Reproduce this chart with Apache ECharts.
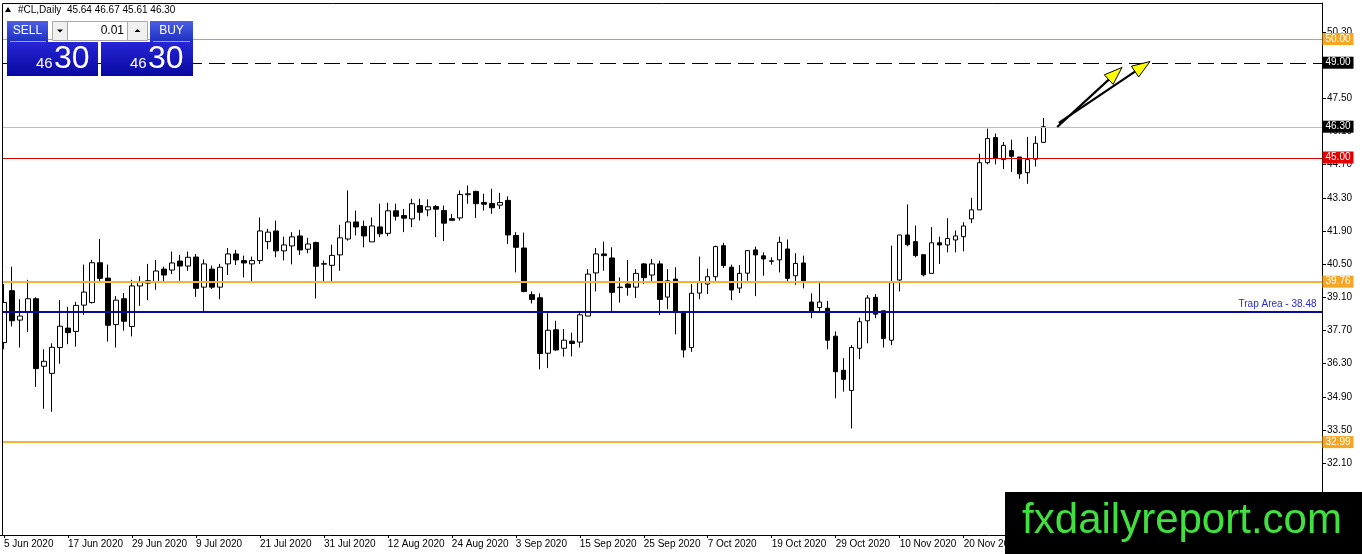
<!DOCTYPE html>
<html><head><meta charset="utf-8">
<script src="https://cdn.jsdelivr.net/npm/echarts@6/dist/echarts.min.js"></script>
<style>html,body{margin:0;padding:0;background:#fff;overflow:hidden}#c{width:1362px;height:554px}</style>
</head><body><div id="c"></div><script>
// ---- data ----
const opens  = [37.19,39.38,38.14,38.46,39.04,36.19,35.89,36.98,37.80,37.66,38.77,38.88,40.56,39.91,37.95,39.04,37.87,39.58,39.70,39.76,40.29,40.25,40.63,40.42,40.80,39.53,40.29,39.53,40.51,40.93,40.65,40.51,40.65,41.45,41.90,41.06,41.27,41.69,41.13,41.41,40.50,40.45,40.89,41.56,42.28,42.09,41.44,42.07,41.80,42.75,42.55,42.41,42.97,42.79,42.93,42.76,42.42,42.45,43.43,43.57,43.10,43.06,42.99,43.19,41.71,41.18,39.21,39.08,36.74,37.73,36.95,37.25,37.21,38.31,40.13,40.93,40.76,39.51,39.66,39.53,40.51,40.04,40.51,39.11,39.87,38.50,36.98,39.28,39.66,39.97,41.28,40.37,39.49,40.12,41.10,40.85,40.62,40.68,41.14,40.01,40.55,38.90,38.67,38.64,37.46,36.02,35.17,36.95,38.11,39.10,38.53,37.29,39.83,41.73,41.45,40.90,40.11,41.40,41.31,41.52,41.66,42.41,42.79,44.78,45.84,44.91,45.29,45.02,44.36,44.93,45.64];
const closes = [38.88,38.11,38.31,39.04,36.09,36.40,36.99,37.88,37.61,38.76,39.32,40.56,39.90,37.92,38.98,38.09,39.58,39.77,39.80,40.21,40.04,40.55,40.42,40.79,39.48,40.51,39.53,40.37,40.93,40.68,40.55,40.65,41.90,41.85,41.06,41.31,41.65,41.10,41.35,40.41,40.52,40.87,41.61,42.28,42.07,41.69,42.11,41.78,42.75,42.52,42.44,43.05,42.69,42.92,42.82,42.23,42.35,43.44,43.47,43.05,43.03,42.88,43.10,41.73,41.21,39.35,39.01,36.73,37.71,36.88,37.29,37.15,38.36,40.08,40.93,40.86,39.31,39.53,39.52,40.11,39.93,40.51,39.01,39.80,38.46,36.88,39.27,39.77,39.97,41.24,40.44,39.41,40.11,41.07,40.89,40.72,40.64,41.42,39.90,40.53,39.77,38.49,38.90,37.29,35.96,35.64,36.98,38.07,39.07,38.39,37.36,39.77,41.73,41.32,40.86,40.05,41.40,41.31,41.58,41.69,42.11,42.79,44.78,45.80,44.98,45.51,45.05,44.31,44.91,45.60,46.30];
const lows   = [36.91,37.87,36.98,37.64,35.32,34.40,34.27,36.30,37.12,37.02,38.36,38.84,39.76,37.23,36.98,37.69,37.45,38.74,38.98,39.42,39.76,40.08,39.80,40.22,39.12,38.46,39.45,39.02,40.04,40.46,39.94,39.76,40.51,41.13,40.79,40.66,40.49,40.89,40.96,39.05,39.76,39.76,40.22,41.49,41.71,41.21,41.44,41.64,41.68,42.34,41.85,42.06,42.34,42.52,41.64,41.47,42.34,42.34,43.05,42.45,42.76,42.62,42.83,41.35,40.15,39.31,38.84,36.06,36.11,36.84,36.60,36.61,36.98,38.31,39.35,40.22,38.46,38.88,39.17,39.07,39.66,39.76,38.35,38.60,37.54,36.56,36.80,39.02,39.24,39.80,40.34,38.98,39.28,39.80,39.15,40.01,40.48,40.15,39.77,39.63,39.48,38.22,38.49,36.91,34.84,35.12,33.57,36.49,37.16,38.22,36.98,37.08,39.35,41.25,40.79,39.98,40.11,40.51,41.00,41.00,41.04,42.23,42.79,44.71,44.71,44.51,44.39,44.10,43.89,44.62,45.61];
const highs  = [39.66,40.39,39.02,39.84,39.10,36.91,37.16,38.98,38.70,38.91,40.48,40.68,41.56,40.48,39.15,39.28,39.84,39.99,40.51,40.68,40.39,41.03,40.89,41.03,40.93,40.70,40.44,40.51,41.18,41.10,40.86,40.82,42.47,41.99,42.34,41.66,41.85,41.95,41.61,41.45,40.65,41.32,42.16,43.61,42.76,42.34,42.47,43.05,43.09,43.05,42.83,43.26,43.26,43.23,43.00,42.97,42.62,43.61,43.82,43.60,43.47,43.68,43.51,43.36,41.85,41.83,39.35,39.27,38.43,38.11,37.76,37.61,38.53,40.29,41.18,41.45,41.21,39.94,40.68,40.29,40.55,40.72,40.65,40.29,40.37,38.53,39.66,40.82,40.31,41.28,41.40,40.48,40.46,41.10,41.24,41.00,40.79,41.66,41.54,40.96,40.86,39.27,39.70,38.95,37.66,36.53,37.08,38.24,39.19,39.24,38.53,41.28,41.73,43.02,42.13,40.90,42.06,41.66,42.44,41.92,42.27,43.30,45.16,46.22,46.01,45.65,45.75,45.02,45.87,45.90,46.67];
const firstDate = '2020-06-05';          // first daily bar (weekdays follow)
const slotCount = 165;                    // visible daily slots incl. empty right margin
const yTickLabels = [32.10,33.50,34.90,36.30,37.70,39.10,40.50,41.90,43.30,44.70,46.10,47.50,48.90,50.30];
const levelPrices = [50.00, 49.00, 46.30, 45.00, 39.76, 38.48, 32.99];
const levelTexts  = ['50.00','49.00','46.30','45.00','39.76','Trap Area - 38.48','32.99'];
const arrowFrom = [[131.7, 46.29],[131.9, 46.46]];
const arrowTo   = [[139.8, 48.80],[143.3, 49.05]];
const headerText = '#CL,Daily  45.64 46.67 45.61 46.30';

// ---- categories from the calendar (weekday bars) ----
const MON = ['Jan','Feb','Mar','Apr','May','Jun','Jul','Aug','Sep','Oct','Nov','Dec'];
const categories = [];
{
  const d = new Date(firstDate + 'T00:00:00Z');
  while (categories.length < slotCount) {
    const wd = d.getUTCDay();
    if (wd !== 0 && wd !== 6) categories.push(d.getUTCDate() + ' ' + MON[d.getUTCMonth()] + ' ' + d.getUTCFullYear());
    d.setUTCDate(d.getUTCDate() + 1);
  }
}
const candles = opens.map((o, i) => [o, closes[i], lows[i], highs[i]]);

const FONT = '"Liberation Sans", Arial, sans-serif';
const ORANGE = '#f5a623';
const lvlStyle = [
  {color:'#eea000', width:1, dash:null,   bg:ORANGE},
  {color:'#000000', width:1, dash:[16,7], bg:'#000'},
  {color:'#bdbdbd', width:1, dash:null,   bg:'#000'},
  {color:'#d80000', width:1, dash:null,   bg:'#e00000'},
  {color:'#f3b23a', width:2, dash:null,   bg:ORANGE},
  {color:'#0a0aa0', width:2, dash:null,   bg:null},
  {color:'#f3b23a', width:2, dash:null,   bg:ORANGE}
];
// markLine carries the level labels (its own line transparent; crisp lines drawn below)
const markData = levelPrices.map((p, i) => {
  const s = lvlStyle[i];
  const label = s.bg ? {
    show:true, position:'end', distance:3, formatter: levelTexts[i],
    backgroundColor: s.bg, color:'#fff', fontSize:10, fontFamily:FONT,
    padding:[1,3,0,3], lineHeight:11, opacity:1
  } : {
    show:true, position:'insideEndTop', distance:3, formatter: levelTexts[i],
    color:'#2a2ad0', fontSize:10, fontFamily:FONT, opacity:1
  };
  return {yAxis: p, lineStyle:{color:'rgba(255,255,255,0)', width:1}, label: label};
});

const chart = echarts.init(document.getElementById('c'));
chart.setOption({
  animation:false,
  backgroundColor:'#fff',
  grid:{left:-0.5, right:42.5, top:3, bottom:19, containLabel:false},
  xAxis:{
    type:'category', data:categories, boundaryGap:true,
    axisLine:{show:true, lineStyle:{color:'#000', width:1}},
    axisTick:{show:true, alignWithLabel:true, interval:7, length:3, lineStyle:{color:'#000'}},
    axisLabel:{interval:7, align:'left', margin:4, fontSize:10, color:'#000', fontFamily:FONT,
      formatter:(v, i) => i < opens.length ? v : ''},
    splitLine:{show:false}
  },
  yAxis:{
    type:'value', position:'right', offset:2.5, min:29.07, max:51.52, scale:true,
    axisLine:{show:true, lineStyle:{color:'#000', width:1}},
    axisTick:{show:true, length:4, customValues:yTickLabels, lineStyle:{color:'#000'}},
    axisLabel:{show:true, customValues:yTickLabels, formatter:v => Number(v).toFixed(2), fontSize:10, color:'#000', margin:5, fontFamily:FONT},
    splitLine:{show:false}
  },
  series:[{
    type:'candlestick', data:candles, barWidth:5, clip:true,
    itemStyle:{color:'#fff', color0:'#000', borderColor:'#000', borderColor0:'#000', borderWidth:1},
    markLine:{silent:true, symbol:'none', animation:false, data:markData}
  }]
});

// ---- overlays ----
function px(fi, price) {
  const a = chart.convertToPixel({gridIndex:0}, [0, price]);
  const b = chart.convertToPixel({gridIndex:0}, [1, price]);
  return [a[0] + (b[0] - a[0]) * fi, a[1]];
}
const els = [];
// level lines (pixel-snapped, positions from the y axis scale)
levelPrices.forEach((p, i) => {
  const s = lvlStyle[i];
  const yRaw = px(0, p)[1];
  const y = s.width === 1 ? Math.round(yRaw) + 0.5 : Math.round(yRaw);
  els.push({type:'line', z:5, silent:true, shape:{x1:2, y1:y, x2:1322, y2:y},
    style:{stroke:s.color, lineWidth:s.width, lineDash:s.dash || null}});
});
// frame
els.push({type:'rect', z:50, shape:{x:0, y:3, width:2, height:532}, style:{fill:'#fff'}});
els.push({type:'polyline', z:51, shape:{points:[[2.5,535],[2.5,3.5],[1322,3.5]]}, style:{stroke:'#000', lineWidth:1, fill:null}});
// arrows
arrowFrom.forEach((f, i) => {
  const s = px(f[0], f[1]), t = px(arrowTo[i][0], arrowTo[i][1]);
  const dx = t[0]-s[0], dy = t[1]-s[1], L = Math.hypot(dx, dy), ux = dx/L, uy = dy/L;
  const hl = 18, hw = 6.5, bx = t[0]-ux*hl, by = t[1]-uy*hl, nx = -uy, ny = ux;
  els.push({type:'line', z:60, shape:{x1:s[0], y1:s[1], x2:bx+ux*3, y2:by+uy*3}, style:{stroke:'#000', lineWidth:2.2}});
  els.push({type:'polygon', z:61, shape:{points:[[t[0],t[1]],[bx+nx*hw,by+ny*hw],[bx-nx*hw,by-ny*hw]]}, style:{fill:'#ffff00', stroke:'#000', lineWidth:1}});
});
// header
els.push({type:'polygon', z:70, shape:{points:[[5,12],[11,12],[8,7]]}, style:{fill:'#000'}});
els.push({type:'text', z:70, style:{x:18, y:10, text:headerText, fill:'#000', font:'10px ' + FONT, verticalAlign:'middle'}});
// one-click trading panel
const btnGrad = () => new echarts.graphic.LinearGradient(0,0,0,1,[{offset:0,color:'#4a5fe6'},{offset:1,color:'#1e2fbf'}]);
const bigGrad = () => new echarts.graphic.LinearGradient(0,0,0,1,[{offset:0,color:'#2626d6'},{offset:1,color:'#0808a0'}]);
els.push({type:'rect', z:70, shape:{x:7, y:21, width:41, height:21}, style:{fill:btnGrad()}});
els.push({type:'rect', z:70, shape:{x:150, y:21, width:43, height:21}, style:{fill:btnGrad()}});
els.push({type:'text', z:71, style:{x:27.5, y:31, text:'SELL', fill:'#fff', font:'12px ' + FONT, align:'center', verticalAlign:'middle'}});
els.push({type:'text', z:71, style:{x:171.5, y:31, text:'BUY', fill:'#fff', font:'12px ' + FONT, align:'center', verticalAlign:'middle'}});
els.push({type:'line', z:71, shape:{x1:10, y1:41.5, x2:46, y2:41.5}, style:{stroke:'rgba(255,255,255,0.55)', lineWidth:1}});
els.push({type:'line', z:71, shape:{x1:153, y1:41.5, x2:190, y2:41.5}, style:{stroke:'rgba(255,255,255,0.55)', lineWidth:1}});
els.push({type:'rect', z:70, shape:{x:52.5, y:21.5, width:15, height:19}, style:{fill:'#f0f0f0', stroke:'#a8a8a8', lineWidth:1}});
els.push({type:'polygon', z:71, shape:{points:[[57,29.5],[63,29.5],[60,32.5]]}, style:{fill:'#000'}});
els.push({type:'rect', z:70, shape:{x:67.5, y:21.5, width:60, height:19}, style:{fill:'#fff', stroke:'#a8a8a8', lineWidth:1}});
els.push({type:'text', z:71, style:{x:124, y:31, text:'0.01', fill:'#000', font:'12px ' + FONT, align:'right', verticalAlign:'middle'}});
els.push({type:'rect', z:70, shape:{x:127.5, y:21.5, width:20, height:19}, style:{fill:'#f0f0f0', stroke:'#a8a8a8', lineWidth:1}});
els.push({type:'polygon', z:71, shape:{points:[[134.5,32],[140.5,32],[137.5,29]]}, style:{fill:'#000'}});
els.push({type:'rect', z:70, shape:{x:7, y:42, width:91, height:34}, style:{fill:bigGrad()}});
els.push({type:'rect', z:70, shape:{x:101, y:42, width:92, height:34}, style:{fill:bigGrad()}});
els.push({type:'text', z:71, style:{x:36, y:71, text:'46', fill:'#fff', font:'15px ' + FONT, verticalAlign:'bottom'}});
els.push({type:'text', z:71, style:{x:54, y:75, text:'30', fill:'#fff', font:'32px ' + FONT, verticalAlign:'bottom'}});
els.push({type:'text', z:71, style:{x:130, y:71, text:'46', fill:'#fff', font:'15px ' + FONT, verticalAlign:'bottom'}});
els.push({type:'text', z:71, style:{x:148, y:75, text:'30', fill:'#fff', font:'32px ' + FONT, verticalAlign:'bottom'}});
// watermark
els.push({type:'rect', z:90, shape:{x:1005, y:492, width:357, height:62}, style:{fill:'#000'}});
els.push({type:'text', z:91, style:{x:1182, y:521, text:'fxdailyreport.com', fill:'#3fe03f', font:'42px ' + FONT, align:'center', verticalAlign:'middle'}});
chart.setOption({graphic:{elements:els}});
</script></body></html>
